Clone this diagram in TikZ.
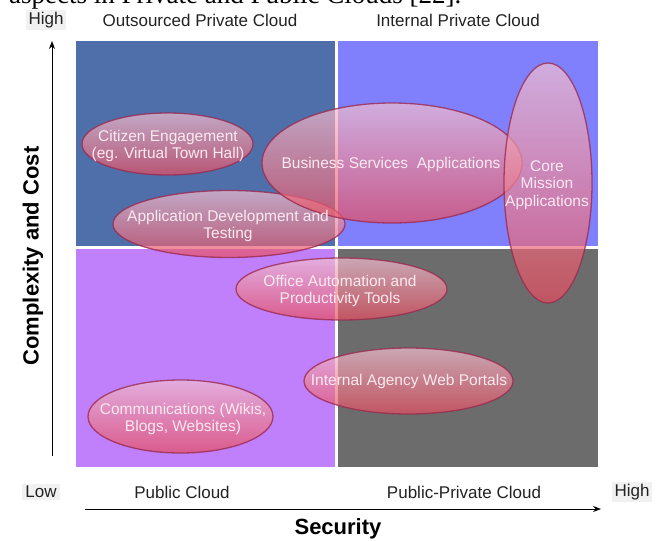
\documentclass[tikz,border=0pt]{standalone}
\usepackage{fontspec}
\setmainfont{Liberation Sans}
\newfontfamily\capserif{Liberation Serif}
\usetikzlibrary{shapes.geometric,arrows.meta}
\definecolor{qTL}{HTML}{4F6FAA}
\definecolor{qTR}{HTML}{8080FC}
\definecolor{qBL}{HTML}{C080FC}
\definecolor{qBR}{HTML}{6C6C6C}
\definecolor{blobtop}{HTML}{F2C0D2}
\definecolor{blobbot}{HTML}{E64C5E}
\definecolor{blobline}{HTML}{9A2A50}
\definecolor{blobtext}{HTML}{FBE9F0}
\definecolor{labtext}{HTML}{222222}
\definecolor{labbg}{HTML}{F1F1F1}
\begin{document}
\begin{tikzpicture}[x=1pt,y=-1pt,
  blob/.style={ellipse, draw=blobline, line width=1.3pt, draw opacity=0.8,
    top color=blobtop, bottom color=blobbot, fill opacity=0.7, inner sep=0pt, outer sep=0pt},
  blobtxt/.style={text=blobtext, align=center, inner sep=0pt,
    font=\fontsize{15.5}{17.5}\selectfont},
  lab/.style={text=labtext, inner sep=1pt, font=\fontsize{17}{19}\selectfont},
  endlab/.style={lab, fill=labbg, inner xsep=3pt, inner ysep=2pt},
  axislab/.style={text=black, font=\bfseries\fontsize{22}{24}\selectfont},
  axis/.style={line width=1pt, -{Stealth[length=8pt,width=6pt]}}]
\useasboundingbox (0,0) rectangle (670,541);
\clip (0,0) rectangle (670,541);
% caption fragment cut at top
\node[anchor=base west, inner sep=0pt, font=\capserif\fontsize{27}{29}\selectfont] (cap) at (9,3) {aspects in Private and Public Clouds [22].};
% quadrants
\fill[qTL] (76,41) rectangle (335,246);
\fill[qTR] (338,41) rectangle (598,246);
\fill[qBL] (76,249) rectangle (335,467);
\fill[qBR] (338,249) rectangle (598,467);
% labels
\node[endlab] (hightop) at (46,20) {High};
\node[lab] (opc) at (200,20) {Outsourced Private Cloud};
\node[lab] (ipc) at (458,20) {Internal Private Cloud};
\node[endlab] (low) at (41,492) {Low};
\node[lab] (pc) at (182,492) {Public Cloud};
\node[lab] (ppc) at (464,492) {Public-Private Cloud};
\node[endlab] (highright) at (632,492) {High};
\node[axislab] (sec) at (338,529) {Security};
\node[axislab, rotate=90] (cc) at (33,256) {Complexity and Cost};
% axes
\coordinate (ybot) at (52,456);
\coordinate (ytop) at (52,41);
\coordinate (xl) at (85,509);
\coordinate (xr) at (601,509);
\draw[axis] (ybot) -- (ytop);
\draw[axis] (xl) -- (xr);
% ellipses
\node[blob, minimum width=171pt, minimum height=62pt] (cit) at (167.5,144) {};
\node[blob, minimum width=232pt, minimum height=67pt] (dev) at (229,224) {};
\node[blob, minimum width=260pt, minimum height=120pt] (bus) at (392,163) {};
\node[blob, minimum width=88pt, minimum height=240pt] (core) at (548,183) {};
\node[blob, minimum width=211pt, minimum height=62pt] (off) at (341.5,289) {};
\node[blob, minimum width=209pt, minimum height=66pt] (web) at (408.5,381) {};
\node[blob, minimum width=185pt, minimum height=73pt] (com) at (180.5,416.5) {};
% ellipse texts
\node[blobtxt] (citt) at (168,146) {Citizen Engagement\\(eg. Virtual Town Hall)};
\node[blobtxt] (devt) at (228,226) {Application Development and\\Testing};
\node[blobtxt] (bust) at (391,164) {Business Services\ \ Applications};
\node[blobtxt] (coret) at (547,185) {Core\\Mission\\Applications};
\node[blobtxt] (offt) at (340,291) {Office Automation and\\Productivity Tools};
\node[blobtxt] (webt) at (409,381) {Internal Agency Web Portals};
\node[blobtxt] (comt) at (183,419) {Communications (Wikis,\\Blogs, Websites)};
\end{tikzpicture}
\end{document}
